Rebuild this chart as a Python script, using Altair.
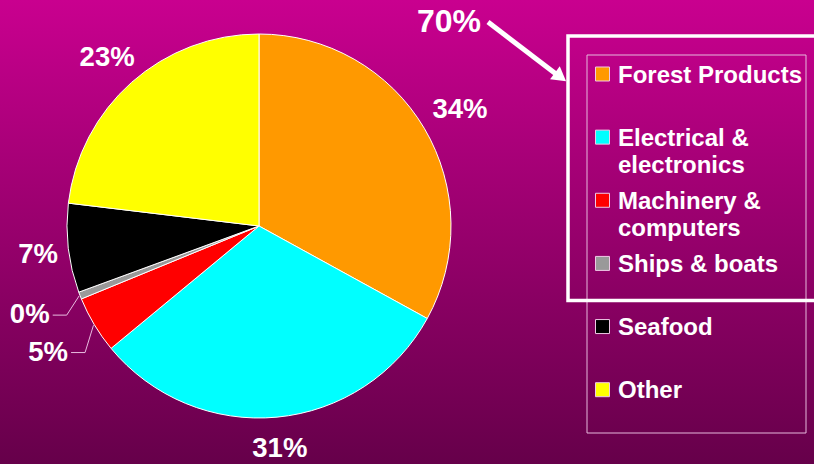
import altair as alt
import pandas as pd

# ---- data ----
categories = ["Forest Products", "Electrical & electronics", "Machinery & computers",
              "Ships & boats", "Seafood", "Other"]
legend_labels = ["Forest Products", "Electrical &\nelectronics", "Machinery &\ncomputers",
                 "Ships & boats", "Seafood", "Other"]
shares = [33.0, 31.0, 4.8, 0.6, 7.5, 23.1]
pct_labels = ["34%", "31%", "5%", "0%", "7%", "23%"]
colors = ["#FF9900", "#00FFFF", "#FF0000", "#999999", "#000000", "#FFFF00"]
callout_text = ["70%"]

df = pd.DataFrame({
    "idx": list(range(len(categories))),
    "cat": categories,
    "legend": legend_labels,
    "share": shares,
    "pct": pct_labels,
})

FONT = "Liberation Sans"
CX, CY, R = 259, 226, 192

base = alt.Chart(df)
one = alt.Chart(pd.DataFrame({"a": [0]}))

color_scale = alt.Scale(domain=categories, range=colors)
theta = alt.Theta("share:Q", stack=True)
order = alt.Order("idx:Q")

bg = one.mark_rect(
    fill=alt.Gradient(
        gradient="linear",
        stops=[alt.GradientStop(color="#C9008F", offset=0),
               alt.GradientStop(color="#66004A", offset=1)],
        x1=0, x2=0, y1=0, y2=1,
    )
).encode(x=alt.value(0), x2=alt.value(814), y=alt.value(0), y2=alt.value(464))

arcs = base.mark_arc(outerRadius=R, stroke="white", strokeWidth=1).encode(
    theta=theta,
    color=alt.Color("cat:N", scale=color_scale, legend=None),
    order=order,
    x=alt.value(CX), y=alt.value(CY),
)

# mid-angle of each slice (radians, clockwise from 12 o'clock)
with_mid = base.transform_window(
    cum="sum(share)", sort=[alt.SortField("idx")]
).transform_joinaggregate(total="sum(share)").transform_calculate(
    mid="(datum.cum - datum.share/2)/datum.total*2*PI",
)

big_labels = with_mid.transform_filter("datum.share >= 5").transform_calculate(
    lr="227 + 6*cos(datum.mid) + 4*sin(datum.mid)",
).transform_calculate(
    tx=f"{CX} + datum.lr*sin(datum.mid)",
    ty=f"{CY} - datum.lr*cos(datum.mid)",
).mark_text(font=FONT, fontSize=27.5, fontWeight="bold", color="white",
            align="center", baseline="middle", dy=3).encode(
    x=alt.X("tx:Q", scale=None, axis=None),
    y=alt.Y("ty:Q", scale=None, axis=None),
    text="pct:N",
)

small_labels = base.transform_calculate(
    lab="datum.share < 5 ? datum.pct : ''"
).mark_text(radius=246, font=FONT, fontSize=27.5, fontWeight="bold", color="white",
            align="center", baseline="middle").encode(
    theta=theta, order=order, detail="cat:N", text="lab:N",
    x=alt.value(CX), y=alt.value(CY),
)

leader = with_mid.transform_calculate(
    ex=f"{CX}+{R+1}*sin(datum.mid)",
    ey=f"{CY}-{R+1}*cos(datum.mid)",
    lx=f"{CX}+246*sin(datum.mid)+37",
    ly=f"{CY}-246*cos(datum.mid)",
    hx=f"{CX}+246*sin(datum.mid)+23",
).transform_filter("datum.share < 5")

leader_diag = leader.mark_rule(color="#E8BCE0", strokeWidth=1).encode(
    x=alt.X("ex:Q", scale=None, axis=None), y=alt.Y("ey:Q", scale=None, axis=None),
    x2="lx:Q", y2="ly:Q",
)
leader_h = leader.mark_rule(color="#E8BCE0", strokeWidth=1).encode(
    x=alt.X("lx:Q", scale=None, axis=None), y=alt.Y("ly:Q", scale=None, axis=None),
    x2="hx:Q",
)

legend_box = one.mark_rect(fill=None, stroke="#E6B8DC", strokeWidth=1).encode(
    x=alt.value(587), x2=alt.value(806), y=alt.value(55), y2=alt.value(433)
)
frame = one.mark_rect(fill=None, stroke="white", strokeWidth=3.5).encode(
    x=alt.value(568), x2=alt.value(830), y=alt.value(36), y2=alt.value(300.5)
)

leg_y = alt.Y("cat:N", sort=categories, axis=None,
              scale=alt.Scale(type="point", range=[74, 389.7], padding=0))

leg_sym = base.mark_square(size=196, opacity=1, stroke="#F0C8E6", strokeWidth=1).encode(
    x=alt.value(602.5), y=leg_y,
    color=alt.Color("cat:N", scale=color_scale, legend=None),
)
leg_txt = base.mark_text(font=FONT, fontSize=24, fontWeight="bold", color="white",
                         align="left", baseline="alphabetic", dy=8.5,
                         lineBreak="\n", lineHeight=27.5).encode(
    x=alt.value(618), y=leg_y, text="legend:N",
)

callout = alt.Chart(pd.DataFrame({"t": callout_text})).mark_text(
    font=FONT, fontSize=32, fontWeight="bold", color="white",
    align="center", baseline="middle").encode(
    text="t:N", x=alt.value(449), y=alt.value(22))

shaft = one.mark_rule(color="white", strokeWidth=5).encode(
    x=alt.value(488), y=alt.value(22), x2=alt.value(556), y2=alt.value(74))
head = one.mark_point(shape="triangle-right", filled=True, size=260, angle=37,
                      color="white", opacity=1).encode(
    x=alt.value(560.5), y=alt.value(77))

chart = alt.layer(
    bg, arcs, big_labels, small_labels, leader_diag, leader_h,
    legend_box, frame, leg_sym, leg_txt, callout, shaft, head,
).resolve_scale(
    x="independent", y="independent"
).properties(
    width=814, height=464, padding=0,
    autosize=alt.AutoSizeParams(type="none"),
    background="#66004A",
).configure_view(stroke=None)

chart.save("out.html", embed_options={"renderer": "svg", "actions": False})
